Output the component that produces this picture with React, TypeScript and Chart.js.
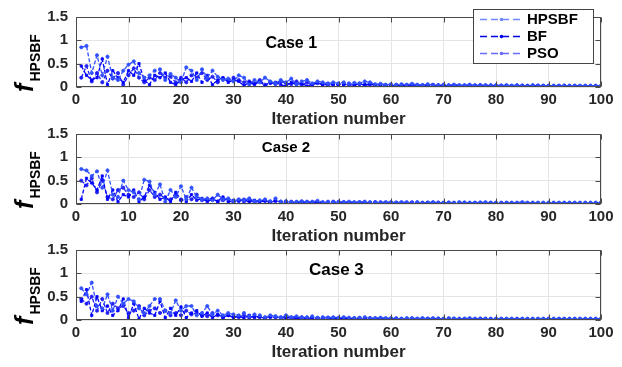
import { useEffect, useRef } from "react";
import { Chart, registerables } from "chart.js";

Chart.register(...registerables);

const iterations: number[] = Array.from({ length: 100 }, (_, i) => i + 1);
const xTickValues = [0, 10, 20, 30, 40, 50, 60, 70, 80, 90, 100];
const yTickValues = [0, 0.5, 1, 1.5];
const yTickLabels = ["0", "0.5", "1", "1.5"];
const seriesNames = ["HPSBF", "BF", "PSO"];
const caseTitles = ["Case 1", "Case 2", "Case 3"];

// Case 1
const c1Hpsbf = [
  0.85, 0.88, 0.3, 0.68, 0.25, 0.65, 0.2, 0.15, 0.35, 0.48,
  0.55, 0.3, 0.2, 0.25, 0.35, 0.38, 0.15, 0.28, 0.2, 0.1,
  0.42, 0.35, 0.15, 0.38, 0.2, 0.35, 0.22, 0.15, 0.18, 0.12,
  0.25, 0.2, 0.05, 0.15, 0.1, 0.2, 0.12, 0.08, 0.15, 0.1,
  0.18, 0.06, 0.12, 0.15, 0.08, 0.12, 0.1, 0.07, 0.1, 0.08,
  0.1, 0.07, 0.09, 0.08, 0.12, 0.1, 0.06, 0.07, 0.05, 0.06,
  0.05, 0.06, 0.05, 0.07, 0.05, 0.04, 0.06, 0.05, 0.04, 0.05,
  0.04, 0.05, 0.04, 0.04, 0.05, 0.04, 0.04, 0.03, 0.04, 0.04,
  0.03, 0.04, 0.03, 0.04, 0.03, 0.03, 0.04, 0.03, 0.03, 0.03,
  0.03, 0.03, 0.03, 0.03, 0.03, 0.03, 0.03, 0.03, 0.03, 0.03,
];
const c1Bf = [
  0.45, 0.25, 0.15, 0.2, 0.6, 0.05, 0.35, 0.2, 0.1, 0.35,
  0.25, 0.5, 0.15, 0.05, 0.25, 0.2, 0.3, 0.1, 0.05, 0.15,
  0.2, 0.12, 0.3, 0.1, 0.25, 0.05, 0.15, 0.2, 0.1, 0.15,
  0.12, 0.03, 0.1, 0.05, 0.12, 0.02, 0.08, 0.1, 0.05, 0.02,
  0.1, 0.05, 0.08, 0.02, 0.06, 0.1, 0.04, 0.08, 0.03, 0.06,
  0.05, 0.08, 0.04, 0.06, 0.05, 0.07, 0.04, 0.05, 0.03, 0.04,
  0.04, 0.05, 0.03, 0.06, 0.04, 0.03, 0.04, 0.05, 0.03, 0.04,
  0.03, 0.04, 0.03, 0.03, 0.04, 0.03, 0.03, 0.04, 0.03, 0.03,
  0.03, 0.03, 0.03, 0.02, 0.03, 0.03, 0.02, 0.03, 0.03, 0.02,
  0.02, 0.03, 0.02, 0.02, 0.03, 0.02, 0.02, 0.02, 0.02, 0.02,
];
const c1Pso = [
  0.2, 0.45, 0.12, 0.3, 0.1, 0.35, 0.18, 0.3, 0.05, 0.25,
  0.4, 0.2, 0.1, 0.2, 0.15, 0.3, 0.2, 0.22, 0.1, 0.2,
  0.1, 0.25, 0.2, 0.3, 0.15, 0.22, 0.1, 0.18, 0.15, 0.2,
  0.15, 0.1, 0.12, 0.08, 0.15, 0.05, 0.1, 0.06, 0.12, 0.08,
  0.06, 0.12, 0.04, 0.1, 0.05, 0.08, 0.06, 0.04, 0.07, 0.05,
  0.06, 0.04, 0.05, 0.07, 0.04, 0.05, 0.04, 0.05, 0.04, 0.03,
  0.04, 0.03, 0.04, 0.04, 0.03, 0.04, 0.03, 0.03, 0.04, 0.03,
  0.03, 0.04, 0.03, 0.03, 0.03, 0.03, 0.04, 0.03, 0.03, 0.03,
  0.03, 0.03, 0.02, 0.03, 0.03, 0.02, 0.03, 0.03, 0.02, 0.02,
  0.02, 0.02, 0.03, 0.02, 0.02, 0.02, 0.02, 0.02, 0.02, 0.02,
];

// Case 2
const c2Hpsbf = [
  0.75, 0.72, 0.6, 0.7, 0.35, 0.72, 0.2, 0.15, 0.5, 0.3,
  0.25, 0.1, 0.52, 0.48, 0.2, 0.42, 0.05, 0.3, 0.15, 0.38,
  0.1, 0.35, 0.15, 0.1, 0.12, 0.08, 0.2, 0.1, 0.12, 0.06,
  0.1, 0.08, 0.12, 0.06, 0.08, 0.1, 0.06, 0.12, 0.05, 0.06,
  0.04, 0.05, 0.06, 0.04, 0.05, 0.07, 0.04, 0.05, 0.04, 0.05,
  0.04, 0.05, 0.04, 0.04, 0.05, 0.04, 0.04, 0.03, 0.04, 0.04,
  0.03, 0.04, 0.04, 0.03, 0.04, 0.03, 0.03, 0.04, 0.03, 0.03,
  0.03, 0.03, 0.04, 0.03, 0.03, 0.03, 0.03, 0.04, 0.03, 0.03,
  0.03, 0.03, 0.03, 0.03, 0.04, 0.03, 0.03, 0.03, 0.03, 0.03,
  0.03, 0.03, 0.03, 0.03, 0.03, 0.03, 0.03, 0.03, 0.03, 0.03,
];
const c2Bf = [
  0.1, 0.55, 0.45, 0.3, 0.6, 0.1, 0.3, 0.05, 0.2, 0.15,
  0.3, 0.05, 0.15, 0.4, 0.25, 0.1, 0.15, 0.05, 0.25, 0.1,
  0.05, 0.2, 0.08, 0.12, 0.05, 0.1, 0.06, 0.15, 0.04, 0.08,
  0.06, 0.1, 0.04, 0.08, 0.05, 0.06, 0.03, 0.08, 0.04, 0.05,
  0.03, 0.04, 0.05, 0.03, 0.04, 0.05, 0.03, 0.04, 0.03, 0.04,
  0.03, 0.04, 0.03, 0.03, 0.04, 0.03, 0.03, 0.04, 0.03, 0.03,
  0.03, 0.03, 0.03, 0.04, 0.03, 0.03, 0.03, 0.03, 0.02, 0.03,
  0.03, 0.02, 0.03, 0.03, 0.02, 0.03, 0.03, 0.02, 0.03, 0.02,
  0.02, 0.03, 0.02, 0.02, 0.03, 0.02, 0.02, 0.02, 0.02, 0.02,
  0.02, 0.02, 0.02, 0.02, 0.02, 0.02, 0.02, 0.02, 0.02, 0.02,
];
const c2Pso = [
  0.5, 0.4, 0.55, 0.25, 0.5, 0.15, 0.1, 0.3, 0.35, 0.2,
  0.15, 0.25, 0.1, 0.3, 0.15, 0.2, 0.12, 0.1, 0.18, 0.08,
  0.15, 0.1, 0.2, 0.08, 0.1, 0.12, 0.05, 0.08, 0.1, 0.04,
  0.08, 0.05, 0.1, 0.04, 0.06, 0.08, 0.04, 0.06, 0.05, 0.04,
  0.05, 0.03, 0.04, 0.05, 0.03, 0.04, 0.03, 0.04, 0.05, 0.03,
  0.04, 0.03, 0.03, 0.04, 0.03, 0.03, 0.04, 0.03, 0.03, 0.03,
  0.03, 0.03, 0.02, 0.03, 0.03, 0.02, 0.03, 0.03, 0.03, 0.02,
  0.03, 0.02, 0.02, 0.03, 0.02, 0.02, 0.03, 0.02, 0.02, 0.02,
  0.02, 0.02, 0.02, 0.02, 0.02, 0.02, 0.02, 0.02, 0.02, 0.02,
  0.02, 0.02, 0.02, 0.02, 0.02, 0.02, 0.02, 0.02, 0.02, 0.02,
];

// Case 3
const c3Hpsbf = [
  0.68, 0.55, 0.8, 0.3, 0.25, 0.55, 0.2, 0.5, 0.35, 0.45,
  0.4, 0.25, 0.15, 0.3, 0.45, 0.45, 0.2, 0.15, 0.42, 0.2,
  0.3, 0.3, 0.1, 0.15, 0.3, 0.12, 0.2, 0.1, 0.15, 0.12,
  0.1, 0.15, 0.08, 0.12, 0.1, 0.06, 0.1, 0.08, 0.05, 0.1,
  0.06, 0.08, 0.05, 0.06, 0.08, 0.05, 0.06, 0.05, 0.06, 0.05,
  0.06, 0.05, 0.04, 0.05, 0.06, 0.04, 0.04, 0.05, 0.04, 0.04,
  0.04, 0.03, 0.04, 0.04, 0.03, 0.04, 0.03, 0.04, 0.03, 0.03,
  0.04, 0.03, 0.03, 0.03, 0.04, 0.03, 0.03, 0.03, 0.03, 0.03,
  0.03, 0.03, 0.03, 0.03, 0.03, 0.03, 0.03, 0.03, 0.03, 0.03,
  0.03, 0.03, 0.03, 0.03, 0.03, 0.03, 0.03, 0.03, 0.03, 0.03,
];
const c3Bf = [
  0.4, 0.65, 0.1, 0.5, 0.2, 0.3, 0.1, 0.2, 0.45, 0.05,
  0.35, 0.02, 0.25, 0.15, 0.1, 0.4, 0.05, 0.25, 0.1, 0.28,
  0.05, 0.15, 0.2, 0.08, 0.15, 0.05, 0.12, 0.06, 0.1, 0.05,
  0.08, 0.04, 0.1, 0.05, 0.07, 0.04, 0.06, 0.08, 0.03, 0.06,
  0.04, 0.05, 0.03, 0.05, 0.04, 0.03, 0.05, 0.03, 0.04, 0.03,
  0.04, 0.03, 0.03, 0.04, 0.03, 0.03, 0.04, 0.03, 0.03, 0.03,
  0.03, 0.03, 0.02, 0.03, 0.03, 0.03, 0.02, 0.03, 0.03, 0.02,
  0.03, 0.02, 0.02, 0.03, 0.02, 0.02, 0.02, 0.03, 0.02, 0.02,
  0.02, 0.02, 0.02, 0.02, 0.02, 0.02, 0.02, 0.02, 0.02, 0.02,
  0.02, 0.02, 0.02, 0.02, 0.02, 0.02, 0.02, 0.02, 0.02, 0.02,
];
const c3Pso = [
  0.45, 0.35, 0.5, 0.2, 0.45, 0.15, 0.35, 0.25, 0.3, 0.15,
  0.2, 0.3, 0.1, 0.2, 0.25, 0.15, 0.2, 0.1, 0.15, 0.1,
  0.2, 0.12, 0.15, 0.1, 0.08, 0.15, 0.1, 0.05, 0.1, 0.08,
  0.06, 0.1, 0.05, 0.08, 0.06, 0.04, 0.07, 0.05, 0.06, 0.04,
  0.05, 0.04, 0.06, 0.03, 0.05, 0.04, 0.03, 0.05, 0.04, 0.03,
  0.04, 0.03, 0.04, 0.03, 0.03, 0.04, 0.03, 0.03, 0.03, 0.03,
  0.03, 0.02, 0.03, 0.03, 0.02, 0.03, 0.03, 0.02, 0.03, 0.02,
  0.02, 0.03, 0.02, 0.02, 0.02, 0.02, 0.03, 0.02, 0.02, 0.02,
  0.02, 0.02, 0.02, 0.02, 0.02, 0.02, 0.02, 0.02, 0.02, 0.02,
  0.02, 0.02, 0.02, 0.02, 0.02, 0.02, 0.02, 0.02, 0.02, 0.02,
];

const caseSeries = [
  [c1Hpsbf, c1Bf, c1Pso],
  [c2Hpsbf, c2Bf, c2Pso],
  [c3Hpsbf, c3Bf, c3Pso],
];

const seriesColors = ["#3050ff", "#0000ff", "#2222f5"];
const legendColors = ["#6f86ff", "#0000e6", "#6a6aff"];
const caseTextPos = [
  { x: 41, y: 0.94, size: 16 },
  { x: 40, y: 1.2, size: 15 },
  { x: 49.6, y: 1.06, size: 17 },
];
const canvasTops = [0, 117, 233];
const FONT = '"Liberation Sans", Arial, Helvetica, sans-serif';
const AXIS_COLOR = "#262626";

function makeDecor(index: number) {
  return {
    id: "decor" + index,
    afterDraw(chart: any) {
      const ctx: CanvasRenderingContext2D = chart.ctx;
      const ca = chart.chartArea;
      const xs = chart.scales.x;
      const ys = chart.scales.y;
      ctx.save();
      // box
      ctx.strokeStyle = "#4a4a4a";
      ctx.lineWidth = 1;
      const l = Math.round(ca.left) + 0.5;
      const r = Math.round(ca.right) - 0.5;
      const t = Math.round(ca.top) + 0.5;
      const b = Math.round(ca.bottom) - 0.5;
      ctx.strokeRect(l, t, r - l, b - t);
      // inward ticks
      ctx.beginPath();
      for (const v of xTickValues) {
        const px = Math.round(xs.getPixelForValue(v)) + 0.5;
        ctx.moveTo(px, b);
        ctx.lineTo(px, b - 5);
        ctx.moveTo(px, t);
        ctx.lineTo(px, t + 5);
      }
      for (const v of yTickValues) {
        const py = Math.round(ys.getPixelForValue(v)) + 0.5;
        ctx.moveTo(l, py);
        ctx.lineTo(l + 5, py);
        ctx.moveTo(r, py);
        ctx.lineTo(r - 5, py);
      }
      ctx.stroke();

      // y label f_HPSBF
      const cy = (ca.top + ca.bottom) / 2 + 11;
      ctx.translate(33, cy);
      ctx.rotate(-Math.PI / 2);
      ctx.fillStyle = "#000";
      ctx.textAlign = "left";
      ctx.textBaseline = "alphabetic";
      ctx.font = `italic bold 25px ${FONT}`;
      const wf = ctx.measureText("f").width;
      ctx.font = `bold 14px ${FONT}`;
      const ws = ctx.measureText("HPSBF").width;
      const total = wf + ws + 2;
      const u0 = -total / 2;
      ctx.font = `italic bold 25px ${FONT}`;
      ctx.fillText("f", u0, 0);
      ctx.font = `bold 14px ${FONT}`;
      ctx.fillText("HPSBF", u0 + wf + 2, 7);
      ctx.setTransform(1, 0, 0, 1, 0, 0);

      // case text
      const cp = caseTextPos[index];
      ctx.font = `bold ${cp.size}px ${FONT}`;
      ctx.fillStyle = "#000";
      ctx.textAlign = "center";
      ctx.textBaseline = "middle";
      ctx.fillText(caseTitles[index], xs.getPixelForValue(cp.x), ys.getPixelForValue(cp.y));

      // legend
      if (index === 0) {
        ctx.fillStyle = "#ffffff";
        ctx.fillRect(473.5, 9.5, 120, 54);
        ctx.strokeStyle = "#444444";
        ctx.lineWidth = 1;
        ctx.strokeRect(473.5, 9.5, 120, 54);
        seriesNames.forEach((name, i) => {
          const y = 19 + i * 17;
          ctx.strokeStyle = legendColors[i];
          ctx.lineWidth = 1.6;
          ctx.setLineDash([7, 4]);
          ctx.beginPath();
          ctx.moveTo(480, y + 0.5);
          ctx.lineTo(523, y + 0.5);
          ctx.stroke();
          ctx.setLineDash([]);
          ctx.fillStyle = legendColors[i];
          ctx.beginPath();
          ctx.arc(501.5, y + 0.5, 1.8, 0, Math.PI * 2);
          ctx.fill();
          ctx.fillStyle = "#000";
          ctx.font = `bold 15px ${FONT}`;
          ctx.textAlign = "left";
          ctx.textBaseline = "middle";
          ctx.fillText(name, 527, y + 1);
        });
      }
      ctx.restore();
    },
  };
}

function SubChart({ index }: { index: number }) {
  const ref = useRef<HTMLCanvasElement | null>(null);
  useEffect(() => {
    if (!ref.current) return;
    const datasets = caseSeries[index].map((vals, si) => ({
      label: seriesNames[si],
      data: vals.map((v, i) => ({ x: iterations[i], y: v })),
      borderColor: seriesColors[si],
      backgroundColor: seriesColors[si],
      pointBorderColor: seriesColors[si],
      pointBackgroundColor: seriesColors[si],
      borderWidth: 1.3,
      borderDash: [4, 2],
      pointRadius: 1.6,
      pointBorderWidth: 0.8,
      pointStyle: si === 1 ? "rect" : "circle",
      tension: 0,
      fill: false,
    }));
    const chart = new Chart(ref.current, {
      type: "line",
      data: { datasets },
      plugins: [makeDecor(index)],
      options: {
        responsive: false,
        animation: false,
        devicePixelRatio: 1,
        layout: { padding: { top: 15, left: 0, right: 21, bottom: 0 } },
        plugins: { legend: { display: false }, tooltip: { enabled: false } },
        scales: {
          x: {
            type: "linear",
            min: 0,
            max: 100,
            afterFit: (s: any) => {
              s.height = 43;
            },
            afterBuildTicks: (s: any) => {
              s.ticks = xTickValues.map((v) => ({ value: v }));
            },
            ticks: {
              color: AXIS_COLOR,
              font: { family: FONT, size: 15, weight: "bold" },
              padding: 4,
              maxRotation: 0,
              autoSkip: false,
            },
            grid: { color: "#e4e4e4", drawTicks: false },
            border: { display: false },
            title: {
              display: true,
              text: "Iteration number",
              color: AXIS_COLOR,
              font: { family: FONT, size: 17, weight: "bold" },
              padding: { top: 0, bottom: 0 },
            },
          },
          y: {
            type: "linear",
            min: 0,
            max: 1.5,
            afterFit: (s: any) => {
              s.width = 76;
            },
            afterBuildTicks: (s: any) => {
              s.ticks = yTickValues.map((v) => ({ value: v }));
            },
            ticks: {
              color: AXIS_COLOR,
              font: { family: FONT, size: 15, weight: "bold" },
              padding: 8,
              callback: (v: any) => {
                const k = yTickValues.indexOf(Number(v));
                return k >= 0 ? yTickLabels[k] : "";
              },
            },
            grid: { color: "#e4e4e4", drawTicks: false },
            border: { display: false },
          },
        },
      },
    } as any);
    return () => chart.destroy();
  }, [index]);
  return (
    <canvas
      ref={ref}
      width={622}
      height={130}
      style={{ position: "absolute", left: 0, top: canvasTops[index], width: 622, height: 130, display: "block" }}
    />
  );
}

export default function App() {
  return (
    <div style={{ position: "absolute", left: 0, top: 0, width: 622, height: 367, background: "#ffffff", overflow: "hidden" }}>
      <SubChart index={0} />
      <SubChart index={1} />
      <SubChart index={2} />
    </div>
  );
}
